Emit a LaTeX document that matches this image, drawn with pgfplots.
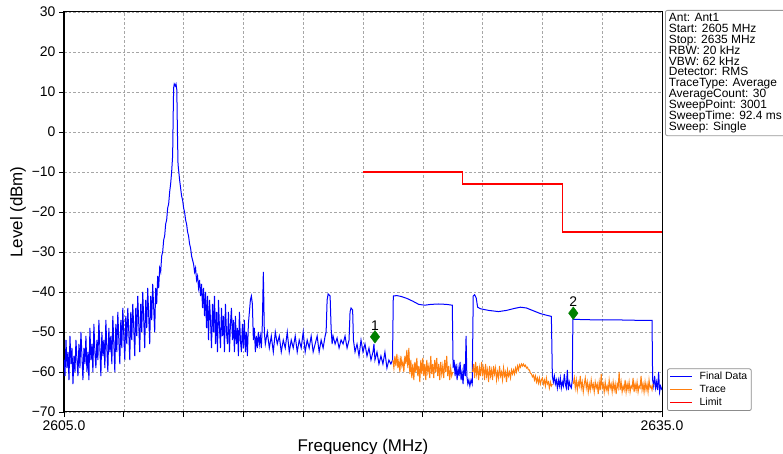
\documentclass[border=0pt]{standalone}
\usepackage{fontspec}
\setmainfont{Liberation Sans}
\usepackage{pgfplots}
\pgfplotsset{compat=1.18}
\definecolor{mplorange}{RGB}{255,127,14}
\definecolor{mkgreen}{RGB}{0,128,0}
\begin{document}
\begin{tikzpicture}
\begin{axis}[
  name=ax, at={(64bp,42bp)}, anchor=south west,
  scale only axis, width=598bp, height=400bp,
  xmin=2605, xmax=2635, ymin=-70, ymax=30,
  xtick={2605,2608,2611,2614,2617,2620,2623,2626,2629,2632,2635},
  xticklabels={2605.0,{},{},{},{},{},{},{},{},{},2635.0},
  ytick={-70,-60,-50,-40,-30,-20,-10,0,10,20,30},
  yticklabels={−70,−60,−50,−40,−30,−20,−10,0,10,20,30},
  tick pos=left, tick align=outside, major tick length=5bp,
  every tick/.style={black, line width=0.8bp},
  axis line style={line width=1bp},
  axis on top=false,
  grid=major, grid style={dash pattern=on 2.5bp off 2bp, black!35, line width=0.6bp},
  tick label style={font=\fontsize{14}{16}\selectfont},
  /pgf/number format/assume math mode=true,
  xlabel={Frequency (MHz)}, ylabel={Level (dBm)},
  every axis x label/.style={at={(axis description cs:0.5,0)}, anchor=center, yshift=-35.5bp, font=\fontsize{17}{20}\selectfont},
  every axis y label/.style={at={(axis description cs:-0.0769,0.5)}, anchor=center, rotate=90, font=\fontsize{17}{20}\selectfont},
  unbounded coords=jump,
  legend style={at={(1.0084,0.0025)}, anchor=south west, draw=black!45, line width=0.8bp, rounded corners=2bp, fill=white,
    font=\fontsize{10.5}{12}\selectfont, inner xsep=2bp, inner ysep=1.5bp,
    /tikz/every odd column/.append style={column sep=5bp}},
  legend cell align=left,
  legend image code/.code={\draw[#1] (0bp,0bp) -- (22bp,0bp);},
]
% Final Data
\addplot[color=blue, line width=1bp] coordinates {
(2605.00,-57) (2605.05,-61) (2605.10,-52) (2605.15,-59) (2605.20,-55) (2605.25,-62) (2605.30,-51) (2605.35,-58) (2605.40,-54) (2605.45,-63) (2605.50,-56) (2605.55,-60) (2605.60,-52) (2605.65,-57) (2605.70,-61) (2605.75,-53) (2605.80,-59) (2605.85,-50) (2605.90,-56) (2605.95,-62)
(2606.00,-54) (2606.05,-58) (2606.10,-51) (2606.15,-60) (2606.20,-55) (2606.25,-62) (2606.30,-49) (2606.35,-57) (2606.40,-53) (2606.45,-60) (2606.50,-48) (2606.55,-55) (2606.60,-59) (2606.65,-52) (2606.70,-57) (2606.75,-47) (2606.80,-54) (2606.85,-61) (2606.90,-50) (2606.95,-56)
(2607.00,-52) (2607.05,-59) (2607.10,-47) (2607.15,-54) (2607.20,-60) (2607.25,-49) (2607.30,-55) (2607.35,-51) (2607.40,-58) (2607.45,-46) (2607.50,-53) (2607.55,-60) (2607.60,-48) (2607.65,-55) (2607.70,-45) (2607.75,-52) (2607.80,-58) (2607.85,-47) (2607.90,-54) (2607.95,-44)
(2608.00,-51) (2608.05,-57) (2608.10,-46) (2608.15,-53) (2608.20,-44) (2608.25,-50) (2608.30,-57) (2608.35,-45) (2608.40,-52) (2608.45,-43) (2608.50,-49) (2608.55,-56) (2608.60,-44) (2608.65,-51) (2608.70,-41) (2608.75,-48) (2608.80,-55) (2608.85,-43) (2608.90,-50) (2608.95,-40)
(2609.00,-47) (2609.05,-54) (2609.10,-42) (2609.15,-49) (2609.20,-39) (2609.25,-46) (2609.30,-53) (2609.35,-41) (2609.40,-47) (2609.45,-38) (2609.50,-44) (2609.55,-50) (2609.60,-39) (2609.65,-43) (2609.70,-36) (2609.75,-39) (2609.80,-34) (2609.85,-35) (2609.90,-31) (2609.95,-30)
(2610.00,-27) (2610.05,-26) (2610.10,-23) (2610.15,-22) (2610.20,-19) (2610.25,-18) (2610.30,-15) (2610.35,-13) (2610.40,-10) (2610.45,-6) (2610.48,5) (2610.50,11) (2610.53,12) (2610.58,11.5) (2610.62,12) (2610.66,10.5) (2610.69,0) (2610.72,-8) (2610.76,-10) (2610.80,-12)
(2610.85,-14) (2610.90,-16) (2610.95,-17) (2611.00,-19) (2611.05,-20) (2611.10,-22) (2611.15,-23) (2611.20,-25) (2611.25,-26) (2611.30,-28) (2611.35,-29) (2611.40,-31) (2611.45,-32) (2611.50,-33) (2611.55,-35) (2611.60,-34) (2611.65,-37) (2611.70,-36) (2611.75,-39) (2611.80,-37)
(2611.85,-41) (2611.90,-38) (2611.95,-44) (2612.00,-39) (2612.05,-46) (2612.10,-40) (2612.15,-49) (2612.20,-41) (2612.25,-52) (2612.30,-42) (2612.35,-47) (2612.40,-54) (2612.45,-43) (2612.50,-50) (2612.55,-41) (2612.60,-53) (2612.65,-45) (2612.70,-55) (2612.75,-42) (2612.80,-49)
(2612.85,-54) (2612.90,-44) (2612.95,-51) (2613.00,-46) (2613.05,-55) (2613.10,-43) (2613.15,-50) (2613.20,-53) (2613.25,-45) (2613.30,-55) (2613.35,-48) (2613.40,-44) (2613.45,-52) (2613.50,-47) (2613.55,-55) (2613.60,-46) (2613.65,-53) (2613.70,-49) (2613.75,-56) (2613.80,-45)
(2613.85,-52) (2613.90,-55) (2613.95,-48) (2614.00,-54) (2614.05,-47) (2614.10,-55) (2614.15,-50) (2614.20,-56) (2614.25,-48) (2614.30,-45) (2614.35,-42) (2614.40,-41) (2614.45,-43) (2614.50,-52) (2614.55,-49) (2614.60,-55) (2614.65,-51) (2614.70,-54) (2614.75,-50) (2614.80,-53)
(2614.85,-51) (2614.90,-54) (2614.95,-48) (2615.00,-35) (2615.05,-50) (2615.10,-53) (2615.20,-50) (2615.30,-54) (2615.40,-51) (2615.50,-55) (2615.60,-50) (2615.70,-53) (2615.80,-51) (2615.90,-55) (2616.00,-52) (2616.10,-54) (2616.20,-50) (2616.30,-55) (2616.40,-52) (2616.50,-54)
(2616.60,-51) (2616.70,-55) (2616.80,-52) (2616.90,-54) (2617.00,-50) (2617.10,-55) (2617.20,-52) (2617.30,-54) (2617.40,-51) (2617.50,-55) (2617.60,-53) (2617.70,-51) (2617.80,-55) (2617.90,-52) (2618.00,-54) (2618.10,-51) (2618.15,-50) (2618.20,-42) (2618.25,-40.5) (2618.35,-41)
(2618.40,-49) (2618.45,-53) (2618.50,-51) (2618.60,-53) (2618.70,-51.5) (2618.80,-54) (2618.90,-52) (2619.00,-53) (2619.10,-51) (2619.20,-54) (2619.30,-52) (2619.35,-45) (2619.40,-44) (2619.48,-44.5) (2619.52,-52) (2619.60,-55) (2619.70,-53) (2619.80,-56) (2619.90,-52) (2620.00,-55)
(2620.10,-53) (2620.20,-56) (2620.30,-54) (2620.40,-57) (2620.50,-55) (2620.55,-53) (2620.60,-57) (2620.70,-55) (2620.80,-58) (2620.90,-56) (2621.00,-58) (2621.10,-55) (2621.20,-59) (2621.30,-57) (2621.40,-58) (2621.48,-57)
(2621.52,-41) (2621.70,-40.9) (2621.90,-41.1) (2622.20,-41.6) (2622.50,-42.3) (2622.80,-43.1) (2623.10,-43.3) (2623.40,-43.1) (2623.80,-43) (2624.20,-43.1) (2624.48,-43.3)
(2624.52,-59) (2624.57,-57) (2624.62,-61) (2624.67,-58) (2624.72,-62) (2624.77,-59) (2624.82,-61) (2624.87,-57.5) (2624.92,-62) (2624.97,-60) (2625.02,-63) (2625.07,-58) (2625.13,-61) (2625.17,-51) (2625.21,-61) (2625.26,-63) (2625.31,-62) (2625.36,-63.5) (2625.42,-62) (2625.48,-63)
(2625.53,-41) (2625.60,-40.7) (2625.68,-41.5) (2625.75,-43.8) (2625.90,-44.2) (2626.30,-44.6) (2626.80,-44.9) (2627.20,-44.6) (2627.60,-44.1) (2627.90,-43.8) (2628.20,-44.0) (2628.50,-44.6) (2628.90,-45.4) (2629.20,-45.8) (2629.45,-46.1)
(2629.50,-61) (2629.55,-62.5) (2629.60,-61) (2629.65,-63) (2629.70,-62) (2629.75,-64) (2629.80,-62) (2629.85,-63.5) (2629.90,-61.5) (2629.95,-64) (2630.00,-62.5) (2630.05,-63.5) (2630.10,-60.5) (2630.15,-63) (2630.20,-64) (2630.25,-59.5) (2630.30,-64.5) (2630.35,-62.5) (2630.40,-63.5) (2630.45,-64) (2630.50,-62)
(2630.53,-46.8) (2631.00,-46.9) (2632.00,-47.0) (2633.00,-47.0) (2634.00,-47.1) (2634.50,-47.1)
(2634.53,-62) (2634.58,-63.5) (2634.63,-61) (2634.68,-64) (2634.73,-62.5) (2634.78,-64.5) (2634.83,-60) (2634.88,-65) (2634.93,-63.5) (2635.00,-64.5)
};
\addlegendentry{Final Data}
% Trace
\addplot[color=mplorange, line width=1bp] coordinates {
(2621.50,-57) (2621.55,-59) (2621.60,-56) (2621.65,-58.5) (2621.70,-55.5) (2621.75,-59) (2621.80,-57) (2621.85,-60) (2621.90,-56) (2621.95,-58.5)
(2622.00,-57.5) (2622.05,-60) (2622.10,-56) (2622.15,-58) (2622.20,-54.5) (2622.25,-59) (2622.30,-54) (2622.35,-60.5) (2622.40,-57) (2622.45,-61.5)
(2622.50,-58) (2622.55,-62) (2622.60,-57.5) (2622.65,-60) (2622.70,-56.5) (2622.75,-61) (2622.80,-58.5) (2622.85,-62.5) (2622.90,-57) (2622.95,-60.5)
(2623.00,-56.5) (2623.05,-61) (2623.10,-58) (2623.15,-62) (2623.20,-57) (2623.25,-60) (2623.30,-58.5) (2623.35,-61.5) (2623.40,-56) (2623.45,-60.5)
(2623.50,-58) (2623.55,-61.5) (2623.60,-57) (2623.65,-60) (2623.70,-56.5) (2623.75,-61) (2623.80,-58) (2623.85,-62) (2623.90,-57.5) (2623.95,-60.5)
(2624.00,-58.5) (2624.05,-61.5) (2624.10,-57) (2624.15,-60) (2624.20,-56) (2624.25,-61) (2624.30,-58.5) (2624.35,-62) (2624.40,-59) (2624.45,-61) (2624.50,-60)
(2625.00,nan)
(2625.50,-60) (2625.55,-58) (2625.60,-61.5) (2625.65,-57.5) (2625.70,-60.5) (2625.75,-58.5) (2625.80,-62) (2625.85,-59) (2625.90,-61) (2625.95,-57.5)
(2626.00,-60.5) (2626.05,-59) (2626.10,-62) (2626.15,-58) (2626.20,-61) (2626.25,-59.5) (2626.30,-62.5) (2626.35,-58.5) (2626.40,-61) (2626.45,-59.5)
(2626.50,-62) (2626.55,-58.5) (2626.60,-60.5) (2626.65,-59) (2626.70,-62) (2626.75,-60) (2626.80,-61.5) (2626.85,-58.5) (2626.90,-61) (2626.95,-60)
(2627.00,-62) (2627.05,-59) (2627.10,-61) (2627.15,-60) (2627.20,-62.5) (2627.25,-59.5) (2627.30,-61) (2627.35,-60) (2627.40,-61.5) (2627.45,-59.5)
(2627.50,-60.5) (2627.55,-59.5) (2627.60,-60.5) (2627.65,-59) (2627.70,-60) (2627.75,-58.5) (2627.80,-59.5) (2627.85,-58.2) (2627.90,-58.8) (2627.95,-58)
(2628.00,-58.5) (2628.05,-58) (2628.10,-58.6) (2628.15,-58.3) (2628.20,-59) (2628.25,-58.8) (2628.30,-59.5) (2628.35,-59.5) (2628.40,-60.3) (2628.45,-60.5)
(2628.50,-61.2) (2628.55,-60.8) (2628.60,-62) (2628.65,-61) (2628.70,-62.5) (2628.75,-61.5) (2628.80,-62.8) (2628.85,-61.5) (2628.90,-63) (2628.95,-62)
(2629.00,-61.5) (2629.05,-63) (2629.10,-62) (2629.15,-63.5) (2629.20,-61.5) (2629.25,-63) (2629.30,-62.5) (2629.35,-64) (2629.40,-62.5) (2629.45,-63.5) (2629.50,-63)
(2630.00,nan)
(2630.55,-63) (2630.60,-61.5) (2630.65,-64) (2630.70,-62) (2630.75,-64.5) (2630.80,-62.5) (2630.85,-63.5) (2630.90,-61) (2630.95,-64)
(2631.00,-62.5) (2631.05,-65) (2631.10,-63) (2631.15,-61.5) (2631.20,-64) (2631.25,-62.5) (2631.30,-65) (2631.35,-63) (2631.40,-64.5) (2631.45,-62)
(2631.50,-64) (2631.55,-63) (2631.60,-65) (2631.65,-62.5) (2631.70,-64) (2631.75,-63) (2631.80,-65.5) (2631.85,-62.5) (2631.90,-64.5) (2631.95,-60.5)
(2632.00,-64) (2632.05,-63) (2632.10,-65) (2632.15,-62.5) (2632.20,-64.5) (2632.25,-63.5) (2632.30,-65) (2632.35,-62) (2632.40,-64) (2632.45,-63)
(2632.50,-65) (2632.55,-62.5) (2632.60,-64.5) (2632.65,-63) (2632.70,-65.5) (2632.75,-63) (2632.80,-64) (2632.85,-60) (2632.90,-64.5) (2632.95,-62.5)
(2633.00,-65) (2633.05,-63.5) (2633.10,-64.5) (2633.15,-62) (2633.20,-65) (2633.25,-63) (2633.30,-64.5) (2633.35,-62.5) (2633.40,-65) (2633.45,-63.5)
(2633.50,-64) (2633.55,-61.5) (2633.60,-65) (2633.65,-63) (2633.70,-64.5) (2633.75,-62.5) (2633.80,-65) (2633.85,-63.5) (2633.90,-64) (2633.95,-61)
(2634.00,-64.5) (2634.05,-63) (2634.10,-65) (2634.15,-62.5) (2634.20,-64.5) (2634.25,-63) (2634.30,-65) (2634.35,-62) (2634.40,-64) (2634.45,-63.5) (2634.50,-64.5) (2634.55,-63)
};
\addlegendentry{Trace}
% Limit
\addplot[color=red, line width=1.2bp] coordinates {
(2620,-10) (2625,-10) (2625,-13) (2630,-13) (2630,-25) (2635,-25)
};
\addlegendentry{Limit}
% Markers
\addplot[forget plot, only marks, mark=diamond*, mark size=6.3bp, color=mkgreen,
  nodes near coords, point meta=explicit symbolic,
  every node near coord/.append style={anchor=south, yshift=6.5bp, inner sep=0pt, text=black, font=\fontsize{14}{16}\selectfont}]
  coordinates {(2620.6,-51.2) [1] (2630.55,-45.3) [2]};
\end{axis}
\node[anchor=north west, draw=black!40, line width=0.8bp, rounded corners=2bp, fill=white, align=left,
  inner xsep=3.5bp, inner ysep=3bp, font={\fontsize{12}{10.9}\selectfont\lineskiplimit=-20pt}]
  at ([xshift=3bp,yshift=2bp]ax.north east)
  {Ant: Ant1\\Start: 2605 MHz\\Stop: 2635 MHz\\RBW: 20 kHz\\VBW: 62 kHz\\Detector: RMS\\TraceType: Average\\AverageCount: 30\\SweepPoint: 3001\\SweepTime: 92.4 ms\\Sweep: Single};
\pgfresetboundingbox
\path[use as bounding box] (0,0) rectangle (783bp,454bp);
\end{tikzpicture}
\end{document}
